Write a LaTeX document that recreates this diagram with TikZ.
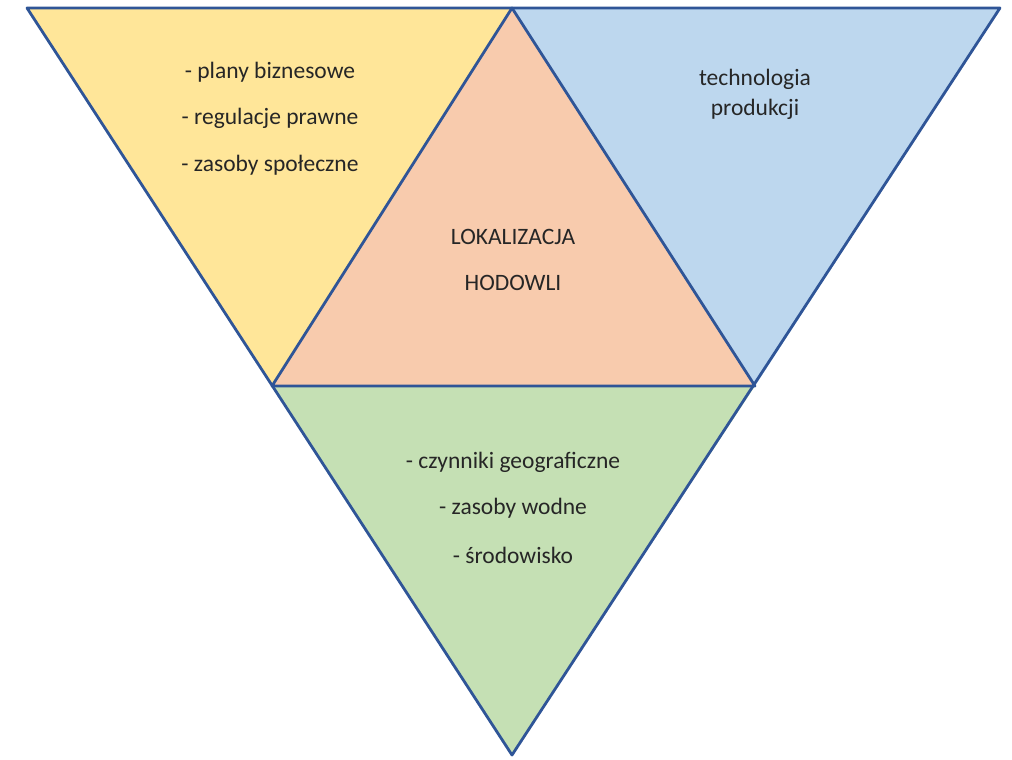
\documentclass[tikz,border=0pt]{standalone}
\usepackage{fontspec}
\setmainfont{Carlito}
\definecolor{cyel}{HTML}{FFE699}
\definecolor{cblu}{HTML}{BDD7EE}
\definecolor{cora}{HTML}{F8CBAD}
\definecolor{cgre}{HTML}{C5E0B4}
\definecolor{cedge}{HTML}{2F5597}
\definecolor{ctxt}{HTML}{262626}
\begin{document}
\begin{tikzpicture}[x=1pt,y=-1pt,
  tri/.style={draw=cedge,line width=2.8pt,line join=round},
  lbl/.style={font=\fontsize{23.5}{28}\selectfont,text=ctxt,inner sep=0pt,anchor=center}]
\useasboundingbox (0,0) rectangle (1012,760);
\coordinate (TL) at (27,8);
\coordinate (TM) at (512,8);
\coordinate (TR) at (1000,8);
\coordinate (ML) at (272,386);
\coordinate (MR) at (755,386);
\coordinate (B) at (512,755);
\fill[cyel] (TL) -- (TM) -- (ML) -- cycle;
\fill[cblu] (TM) -- (TR) -- (MR) -- cycle;
\fill[cora] (TM) -- (ML) -- (MR) -- cycle;
\fill[cgre] (ML) -- (MR) -- (B) -- cycle;
\draw[tri] (TL) -- (TR) -- (B) -- cycle;
\draw[tri] (TM) -- (ML) -- (MR) -- cycle;
\node[lbl] (y1) at (270,72) {- plany biznesowe};
\node[lbl] (y2) at (270,118) {- regulacje prawne};
\node[lbl] (y3) at (270,165) {- zasoby społeczne};
\node[lbl] (b1) at (755,79) {technologia};
\node[lbl] (b2) at (755,109) {produkcji};
\node[lbl] (o1) at (513,237) {LOKALIZACJA};
\node[lbl] (o2) at (513,283) {HODOWLI};
\node[lbl] (g1) at (513,462) {- czynniki geograficzne};
\node[lbl] (g2) at (513,508) {- zasoby wodne};
\node[lbl] (g3) at (513,555) {- środowisko};
\end{tikzpicture}
\end{document}
